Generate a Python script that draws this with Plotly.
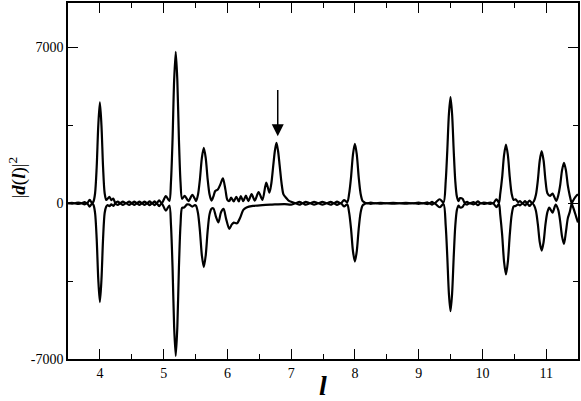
import plotly.graph_objects as go

# upper curve |d(l)|^2 (positive branch)
l_up = [3.50, 3.56, 3.61, 3.66, 3.71, 3.76, 3.80, 3.84, 3.88,
        3.90, 3.925, 3.95, 3.975, 4.00, 4.025, 4.05, 4.075, 4.10,
        4.12, 4.15, 4.18, 4.21, 4.24, 4.28, 4.32, 4.36, 4.41, 4.46, 4.50,
        4.54, 4.58, 4.62, 4.66, 4.70, 4.74, 4.78, 4.82, 4.86, 4.89, 4.93,
        4.97, 5.035, 5.09, 5.115, 5.14, 5.165, 5.19, 5.215, 5.24, 5.265,
        5.29, 5.33, 5.39, 5.45, 5.49, 5.51, 5.54, 5.57, 5.60, 5.63, 5.66,
        5.69, 5.72, 5.75, 5.78, 5.81, 5.85, 5.89, 5.93, 5.97, 6.00, 6.03,
        6.06, 6.10, 6.14, 6.18, 6.21, 6.25, 6.29, 6.33, 6.38, 6.43, 6.49,
        6.55, 6.61, 6.66, 6.69, 6.72, 6.745, 6.77, 6.795, 6.82, 6.85, 6.88,
        6.92, 6.96, 7.00, 7.07, 7.13, 7.18, 7.23, 7.30, 7.36, 7.43, 7.49,
        7.56, 7.62, 7.67, 7.72, 7.78, 7.83, 7.88, 7.91, 7.94, 7.97, 8.00,
        8.03, 8.06, 8.09, 8.12, 8.15, 8.18, 8.25, 8.32, 8.40, 8.50, 8.60,
        8.70, 8.80, 8.90, 9.00, 9.08, 9.14, 9.17, 9.21, 9.25, 9.33, 9.39,
        9.425, 9.45, 9.475, 9.50, 9.525, 9.55, 9.575, 9.60, 9.625, 9.65,
        9.69, 9.72, 9.76, 9.80, 9.86, 9.89, 9.93, 9.97, 10.02, 10.08, 10.13,
        10.17, 10.22, 10.26, 10.28, 10.31, 10.34, 10.37, 10.40, 10.43, 10.46,
        10.49, 10.52, 10.56, 10.59, 10.63, 10.67, 10.70, 10.74, 10.78, 10.81,
        10.84, 10.87, 10.90, 10.93, 10.96, 10.99, 11.02, 11.06, 11.10, 11.16,
        11.19, 11.22, 11.25, 11.28, 11.31, 11.34, 11.37, 11.40, 11.44, 11.47,
        11.50]
d_up = [0, 20, 0, 30, 0, 50, 0, 150, 0,
        80, 450, 1630, 3490, 4530, 3490, 1630, 450, 150,
        200, 290, 140, 210, 30, 75, 0, 75, 0, 75, 0,
        75, 0, 75, 0, 75, 0, 80, 0, 85, 0, 130,
        0, 320, 100, 950, 2860, 5520, 6810, 5520, 2860, 950,
        200, 330, 100, 380, 200, 100, 400, 1100, 2040, 2490, 2040,
        1100, 400, 120, 300, 550, 620, 850, 1120, 600, 150, 100,
        255, 80, 290, 80, 320, 90, 340, 100, 410, 120, 500,
        150, 930, 480, 900, 1700, 2350, 2710, 2350, 1700, 900, 400,
        250, 120, 65, 0, 65, 0, 65, 0, 65, 0, 65,
        0, 65, 0, 70, 0, 140, 50, 430, 1175, 2190, 2670,
        2190, 1175, 430, 110, 40, 0, 25, 0, 20, 0, 20,
        0, 20, 0, 25, 0, 35, 0, 60, 0, 180, 30,
        1000, 2385, 4010, 4770, 4010, 2385, 1000, 300, 100, 230,
        200, 30, 60, 0, 50, 0, 90, 0, 30, 0, 30,
        0, 180, 30, 420, 1160, 2160, 2640, 2160, 1160, 420,
        150, 180, 50, 100, 0, 100, 0, 120, 0, 100,
        380, 1030, 1920, 2340, 1920, 1030, 450, 330, 430, 105,
        350, 800, 1490, 1820, 1490, 800, 350, 0, -320, -600,
        -860]

# lower curve (negative branch)
l_low = [3.50, 3.56, 3.61, 3.66, 3.71, 3.76, 3.80, 3.84, 3.88,
         3.90, 3.925, 3.95, 3.975, 4.00, 4.025, 4.05, 4.075, 4.10,
         4.12, 4.15, 4.18, 4.21, 4.24, 4.28, 4.32, 4.36, 4.41, 4.46, 4.50,
         4.54, 4.58, 4.62, 4.66, 4.70, 4.74, 4.78, 4.82, 4.86, 4.89, 4.93,
         4.97, 5.035, 5.09, 5.115, 5.14, 5.165, 5.19, 5.215, 5.24, 5.265,
         5.29, 5.32, 5.37, 5.40, 5.45, 5.49, 5.51, 5.54, 5.57, 5.60, 5.63,
         5.66, 5.69, 5.72, 5.75, 5.78, 5.82, 5.86, 5.90, 5.94, 5.98, 6.03,
         6.07, 6.10, 6.15, 6.20, 6.25, 6.30, 6.40, 6.55, 6.70, 6.90, 7.00,
         7.07, 7.13, 7.18, 7.23, 7.30, 7.36, 7.43, 7.49, 7.56, 7.62, 7.67,
         7.72, 7.78, 7.83, 7.88, 7.91, 7.94, 7.97, 8.00, 8.03, 8.06, 8.09,
         8.12, 8.15, 8.18, 8.25, 8.32, 8.40, 8.50, 8.60, 8.70, 8.80, 8.90,
         9.00, 9.08, 9.14, 9.17, 9.21, 9.25, 9.33, 9.39, 9.425, 9.45, 9.475,
         9.50, 9.525, 9.55, 9.575, 9.60, 9.625, 9.65, 9.69, 9.72, 9.76, 9.80,
         9.86, 9.89, 9.93, 9.97, 10.02, 10.08, 10.13, 10.17, 10.22, 10.26,
         10.28, 10.31, 10.34, 10.37, 10.40, 10.43, 10.46, 10.49, 10.52, 10.56,
         10.59, 10.63, 10.67, 10.70, 10.74, 10.78, 10.81, 10.84, 10.87, 10.90,
         10.93, 10.96, 10.99, 11.02, 11.05, 11.10, 11.15, 11.19, 11.22, 11.25,
         11.28, 11.31, 11.34, 11.37, 11.40, 11.44, 11.47, 11.50]
d_low = [0, -20, 0, -30, 0, -50, 0, -150, 0,
         -80, -440, -1600, -3420, -4440, -3420, -1600, -440, -150,
         -80, -130, -50, -120, -20, -75, 0, -75, 0, -75, 0,
         -75, 0, -75, 0, -75, 0, -80, 0, -85, 0, -130,
         0, -330, -100, -960, -2880, -5560, -6860, -5560, -2880, -960,
         -200, -190, -50, -60, -150, -80, -115, -460, -1260, -2350, -2870,
         -2350, -1260, -500, -250, -230, -600, -860, -400, -250, -700, -1150,
         -950, -870, -900, -650, -300, -190, -120, -80, -60, -40, -65,
         0, -65, 0, -65, 0, -65, 0, -65, 0, -65, 0,
         -70, 0, -140, -50, -420, -1150, -2150, -2620, -2150, -1150, -420,
         -105, -40, 0, -25, 0, -20, 0, -20, 0, -20, 0,
         -25, 0, -35, 0, -60, 0, -180, -30, -1020, -2425, -4070,
         -4850, -4070, -2425, -1020, -305, -100, -190, -160, -30, -60, 0,
         -50, 0, -90, 0, -30, 0, -30, 0, -180, -30,
         -510, -1410, -2620, -3200, -2620, -1410, -510, -150, -120, -50,
         -100, 0, -100, 0, -120, 0, -90, -340, -940, -1750,
         -2130, -1750, -940, -400, -200, -420, -60, -300, -800, -1500,
         -1830, -1300, -680, -400, -30, 200, 320, 400]

y_ticks = [-7000, 0, 7000]
y_tick_labels = ["-7000", "0", "7000"]

# arrow marking the peak near l = 6.8
arrow_l = 6.79
arrow_top, arrow_tip = 5160, 3010

serif = "Liberation Serif, Times New Roman, serif"

fig = go.Figure()
for xs, ys in [(l_up, d_up), (l_low, d_low)]:
    fig.add_trace(go.Scatter(x=xs, y=ys, mode="lines",
                             line=dict(color="black", width=2.2, shape="spline", smoothing=0.8),
                             showlegend=False, hoverinfo="skip"))

fig.add_annotation(x=arrow_l, y=arrow_tip, ax=arrow_l, ay=arrow_top,
                   xref="x", yref="y", axref="x", ayref="y",
                   text="", showarrow=True, arrowhead=2, arrowsize=1.6,
                   arrowwidth=1.5, arrowcolor="black")

# axis titles as annotations so they sit where the original has them
fig.add_annotation(xref="paper", yref="paper", x=0.5, y=-0.1235,
                   text="<b><i>l</i></b>", showarrow=False,
                   font=dict(family=serif, size=28, color="black"),
                   xanchor="center", yanchor="bottom")
fig.add_annotation(xref="paper", yref="paper", x=-0.1, y=0.51,
                   text="|<b><i>d</i></b>(<b><i>l</i></b>)|<sup>2</sup>", showarrow=False,
                   textangle=-90, font=dict(family=serif, size=19, color="black"),
                   xanchor="center", yanchor="middle")

axis_style = dict(showline=True, linecolor="black", linewidth=1.5, mirror="ticks",
                  ticks="inside", tickcolor="black", tickwidth=1.2, ticklen=10,
                  showgrid=False, zeroline=False,
                  tickfont=dict(family=serif, size=14, color="black"))

fig.update_xaxes(range=[3.5, 11.5], tick0=0, dtick=1,
                 minor=dict(dtick=0.5, ticks="inside", ticklen=5, tickcolor="black", tickwidth=1.2),
                 **axis_style)
fig.update_yaxes(range=[-7000, 9000], tickmode="array", tickvals=y_ticks, ticktext=y_tick_labels,
                 minor=dict(tickmode="linear", tick0=0, dtick=3500, ticks="inside", ticklen=5,
                            tickcolor="black", tickwidth=1.2),
                 **axis_style)

fig.update_layout(width=581, height=401,
                  margin=dict(l=68, r=1, t=2, b=42),
                  plot_bgcolor="white", paper_bgcolor="white",
                  font=dict(family=serif, color="black"))

# page body margin would shift the figure by 8px
fig.write_html("out.html", config={"displayModeBar": False},
               post_script="document.body.style.margin='0';document.body.style.overflow='hidden';")
